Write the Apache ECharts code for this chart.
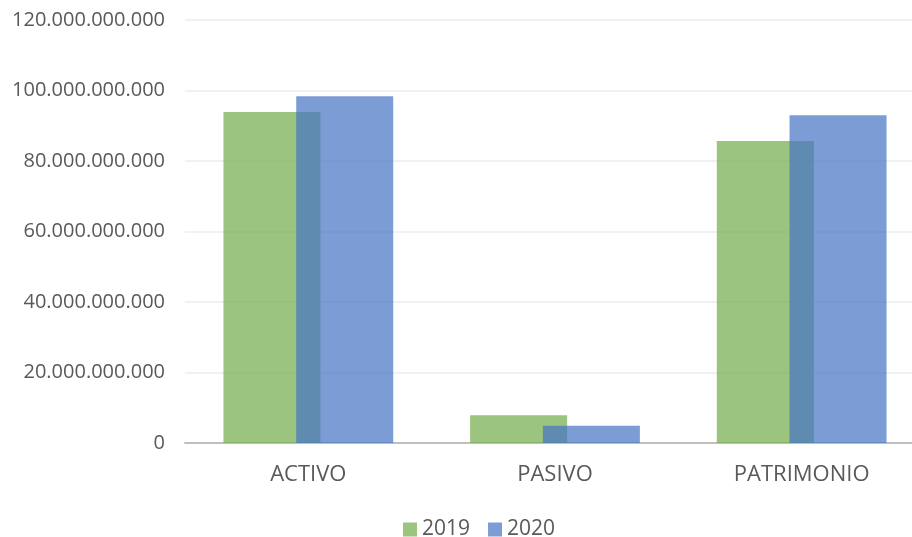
<!DOCTYPE html>
<html>
<head>
<meta charset="utf-8">
<script src="https://cdn.jsdelivr.net/npm/echarts@6/dist/echarts.min.js"></script>
<style>
  html, body { margin: 0; padding: 0; background: #fff; overflow: hidden; }
  /* el area del grafico sobresale un poco por la derecha, como en el original */
  #chart { width: 925px; height: 537px; }
</style>
</head>
<body>
<div id="chart"></div>
<script>
// categorias y valores
const categorias = ['ACTIVO', 'PASIVO', 'PATRIMONIO'];
const valores2019 = [93900000000, 7900000000, 85700000000];
const valores2020 = [98400000000, 4900000000, 93000000000];
const series = ['2019', '2020'];

function formatoPuntos(v) {
  return String(Math.round(v)).replace(/\B(?=(\d{3})+(?!\d))/g, '.');
}

const chart = echarts.init(document.getElementById('chart'));
const fuente = 'Open Sans';
chart.setOption({
  backgroundColor: '#fff',
  animation: false,
  textStyle: { fontFamily: fuente },
  legend: {
    top: 514,
    left: 398,
    itemWidth: 14,
    itemHeight: 14,
    itemGap: 18,
    icon: 'rect',
    textStyle: { fontSize: 21, color: '#595959', fontFamily: fuente },
    data: series
  },
  grid: { left: 185, right: 0, top: 20, bottom: 94 },
  xAxis: {
    type: 'category',
    data: categorias,
    axisLine: { lineStyle: { color: '#BFBFBF', width: 2 } },
    axisTick: { show: false },
    axisLabel: { fontSize: 22, color: '#595959', margin: 21, fontFamily: fuente }
  },
  yAxis: {
    type: 'value',
    min: 0,
    max: 120000000000,
    interval: 20000000000,
    axisLine: { show: false },
    axisTick: { show: false },
    splitLine: { lineStyle: { color: '#EDEDED', width: 1.5 } },
    axisLabel: {
      fontSize: 20, color: '#595959', margin: 20, fontFamily: fuente,
      formatter: formatoPuntos
    }
  },
  series: [
    {
      name: series[0],
      type: 'bar',
      data: valores2019,
      barWidth: 97,
      barGap: '-25%',
      itemStyle: { color: '#70AD47', opacity: 0.7 }
    },
    {
      name: series[1],
      type: 'bar',
      data: valores2020,
      barWidth: 97,
      barGap: '-25%',
      itemStyle: { color: '#4472C4', opacity: 0.7 }
    }
  ]
});
</script>
</body>
</html>
